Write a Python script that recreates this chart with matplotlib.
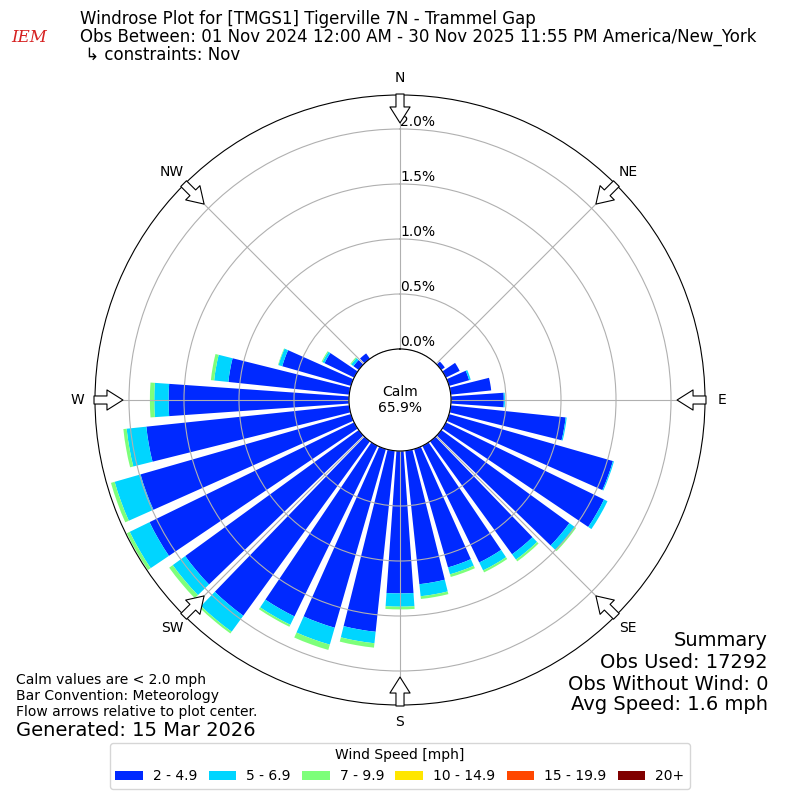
import numpy as np
import matplotlib
matplotlib.use("Agg")
import matplotlib.pyplot as plt
from matplotlib.patches import Patch

# ==========================================
# Data (percent of all obs)
# ==========================================
directions = list(range(0, 360, 10))  # sector centres, deg (from)

speed_2_5 = [0, 0, 0, 0, 0, 0.04, 0.14, 0.19, 0.37, 0.48,
             1.05, 1.55, 1.60, 1.44, 1.27, 1.18, 1.12, 1.22, 1.295, 1.655,
             1.69, 1.725, 1.96, 1.95, 2.07, 1.99, 1.855, 1.64, 1.105, 0.65,
             0.30, 0.06, 0.06, 0, 0, 0]
speed_5_7 = [0, 0, 0, 0, 0, 0, 0, 0.015, 0, 0.01,
             0.01, 0.01, 0.035, 0.06, 0.06, 0.08, 0.065, 0.11, 0.12, 0.105,
             0.16, 0.085, 0.18, 0.14, 0.20, 0.245, 0.18, 0.13, 0.13, 0.035,
             0.02, 0.025, 0, 0, 0, 0]
speed_7_10 = [0, 0, 0, 0, 0, 0, 0, 0, 0, 0,
              0, 0, 0, 0.015, 0.02, 0.02, 0.025, 0.025, 0.025, 0.04,
              0.05, 0.02, 0.02, 0.04, 0.03, 0.035, 0.03, 0.04, 0.03, 0.005,
              0.01, 0.01, 0, 0, 0, 0]
speed_10_15 = [0] * 36
speed_15_20 = [0] * 36
speed_20p = [0] * 36

speed_labels = ["2 - 4.9", "5 - 6.9", "7 - 9.9", "10 - 14.9", "15 - 19.9", "20+"]
calm_pct = 65.9
ring_ticks = [0.0, 0.5, 1.0, 1.5, 2.0]
compass = ["N", "NE", "E", "SE", "S", "SW", "W", "NW"]

series = [speed_2_5, speed_5_7, speed_7_10, speed_10_15, speed_15_20, speed_20p]
colors = plt.cm.jet(np.linspace(0, 1, 7)[1:])

# ==========================================
# Figure
# ==========================================
fig = plt.figure(figsize=(8, 8), dpi=100)
ax = fig.add_axes([0.11875, 0.11875, 0.7625, 0.7625], projection="polar")
ax.set_theta_zero_location("N")
ax.set_theta_direction(-1)
ax.set_ylim(0, 2.309)
ax.set_rorigin(-0.4636)

theta = np.radians(directions)
bottom = np.zeros(len(directions))
for vals, col in zip(series, colors):
    vals = np.array(vals, dtype=float)
    ax.bar(theta, vals, width=np.radians(8), bottom=bottom, color=col,
           linewidth=0, align="center")
    bottom += vals

ax.set_yticks(ring_ticks)
ax.set_yticklabels([])
for r in ring_ticks:
    ax.text(0, r, f"{r:.1f}%", ha="left", va="bottom", fontsize=10)

ax.set_xticks(np.radians(np.arange(0, 360, 45)))
ax.set_xticklabels(compass, fontsize=10)
ax.tick_params(axis="x", pad=2)

# flow arrows on the outer ring
for ang in np.arange(0, 360, 45):
    th = np.radians(ang)
    ax.annotate("", xy=(th, 2.055), xytext=(th, 2.318), xycoords="data",
                annotation_clip=False,
                arrowprops=dict(arrowstyle="simple,head_length=1.15,head_width=1.45,tail_width=0.58",
                                fc="white", ec="black", lw=0.8,
                                shrinkA=0, shrinkB=0, mutation_scale=10))

ax.text(0.5, 0.5, f"Calm\n{calm_pct:.1f}%", transform=ax.transAxes,
        ha="center", va="center", fontsize=10)

# ==========================================
# Texts
# ==========================================
fig.text(0.037, 1 - 38 / 800, "IEM", color="#d62020", style="italic",
         family="DejaVu Serif", fontsize=12, ha="center", va="center")
fig.text(0.1, 1 - 19 / 800, "Windrose Plot for [TMGS1] Tigerville 7N - Trammel Gap",
         fontsize=12, va="center")
fig.text(0.1, 1 - 37 / 800,
         "Obs Between: 01 Nov 2024 12:00 AM - 30 Nov 2025 11:55 PM America/New_York",
         fontsize=12, va="center")
fig.text(0.1, 1 - 55 / 800, " \u21b3 constraints: Nov", fontsize=12, va="center")

fig.text(0.02, 1 - 680 / 800, "Calm values are < 2.0 mph", fontsize=10, va="center")
fig.text(0.02, 1 - 696 / 800, "Bar Convention: Meteorology", fontsize=10, va="center")
fig.text(0.02, 1 - 712 / 800, "Flow arrows relative to plot center.", fontsize=10, va="center")
fig.text(0.02, 1 - 730 / 800, "Generated: 15 Mar 2026", fontsize=14, va="center")

fig.text(0.96, 1 - 640 / 800, "Summary", fontsize=14, ha="right", va="center")
fig.text(0.96, 1 - 662 / 800, "Obs Used: 17292", fontsize=14, ha="right", va="center")
fig.text(0.96, 1 - 684 / 800, "Obs Without Wind: 0", fontsize=14, ha="right", va="center")
fig.text(0.96, 1 - 705 / 800, "Avg Speed: 1.6 mph", fontsize=14, ha="right", va="center")

handles = [Patch(facecolor=c) for c in colors]
fig.legend(handles, speed_labels, ncol=6, loc="lower center",
           bbox_to_anchor=(0.5, 11 / 800), borderaxespad=0,
           columnspacing=0.8, handletextpad=0.72,
           title="Wind Speed [mph]", fontsize=10, title_fontsize=10)

fig.savefig("out.png", dpi=100)
